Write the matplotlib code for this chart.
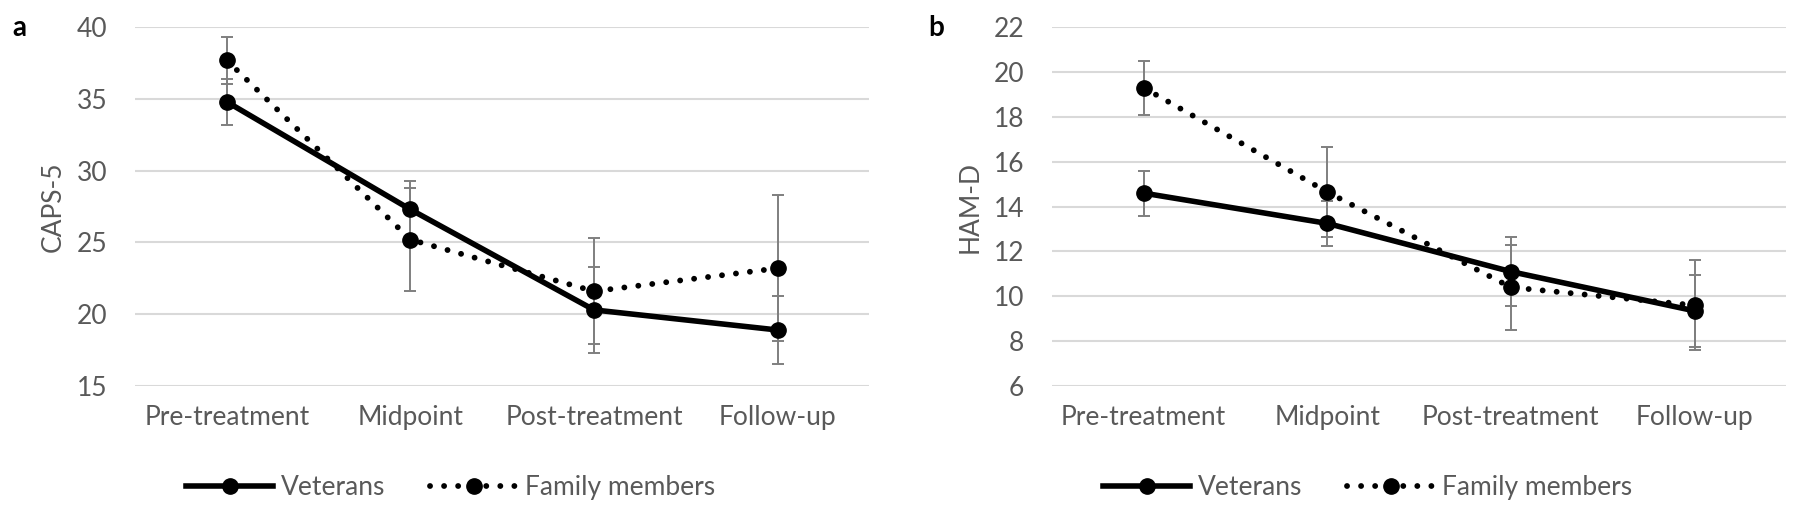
import matplotlib.pyplot as plt
from matplotlib.lines import Line2D
import numpy as np

plt.rcParams["font.family"] = ["Lato", "DejaVu Sans"]

timepoints = ["Pre-treatment", "Midpoint", "Post-treatment", "Follow-up"]

# panel a: CAPS-5
caps_veterans = [34.8, 27.3, 20.3, 18.9]
caps_veterans_err = [1.6, 2.0, 3.0, 2.4]
caps_family = [37.7, 25.2, 21.6, 23.2]
caps_family_err = [1.65, 3.6, 3.7, 5.1]

# panel b: HAM-D
hamd_veterans = [14.6, 13.25, 11.1, 9.35]
hamd_veterans_err = [1.0, 1.0, 1.55, 1.6]
hamd_family = [19.3, 14.65, 10.4, 9.6]
hamd_family_err = [1.2, 2.0, 1.9, 2.0]

GRAY = "#595959"
GRID = "#d9d9d9"
ERR = "#7f7f7f"
DOTTED = (0, (0.01, 2.4))
FS = 19


def draw_panel(ax, vet, vet_err, fam, fam_err, ylim, yticks, ylabel, letter):
    x = np.arange(len(timepoints))
    ax.errorbar(x, vet, yerr=vet_err, fmt="none", ecolor=ERR, elinewidth=1.4,
                capsize=4.5, capthick=1.4, zorder=2)
    ax.errorbar(x, fam, yerr=fam_err, fmt="none", ecolor=ERR, elinewidth=1.4,
                capsize=4.5, capthick=1.4, zorder=2)
    ax.plot(x, vet, color="black", lw=4, marker="o", ms=11, zorder=3,
            solid_capstyle="round")
    ax.plot(x, fam, color="black", lw=4.2, ls=DOTTED, marker="o", ms=11,
            zorder=3, dash_capstyle="round")

    ax.set_xlim(-0.5, len(timepoints) - 0.5)
    ax.set_ylim(*ylim)
    ax.set_yticks(yticks)
    ax.set_xticks(x)
    ax.set_xticklabels(timepoints)
    ax.yaxis.grid(True, color=GRID, lw=1.5)
    ax.set_axisbelow(True)
    for s in ax.spines.values():
        s.set_visible(False)
    ax.tick_params(length=0, labelsize=FS, colors=GRAY)
    ax.tick_params(axis="y", pad=20)
    ax.tick_params(axis="x", pad=14)
    ax.set_ylabel(ylabel, fontsize=FS, color=GRAY, labelpad=8)
    ax.text(-0.157, 0.997, letter, transform=ax.transAxes, fontsize=20,
            fontweight="bold", va="center", ha="center")

    handles = [
        Line2D([], [], color="black", lw=4, marker="o", ms=11),
        Line2D([], [], color="black", lw=4.2, ls=DOTTED, marker="o", ms=11,
               dash_capstyle="round"),
    ]
    leg = ax.legend(handles, ["Veterans", "Family members"], loc="center",
                    bbox_to_anchor=(0.43, -0.284), ncol=2, frameon=False,
                    fontsize=FS, handlelength=3.3, handletextpad=0.3,
                    columnspacing=1.7, numpoints=1)
    for t in leg.get_texts():
        t.set_color(GRAY)


fig = plt.figure(figsize=(18, 5.23), dpi=100)
ax_a = fig.add_axes([0.075, 0.262, 0.408, 0.686])
ax_b = fig.add_axes([0.5844, 0.262, 0.408, 0.686])

draw_panel(ax_a, caps_veterans, caps_veterans_err, caps_family, caps_family_err,
           (15, 40), np.arange(15, 41, 5), "CAPS-5", "a")
draw_panel(ax_b, hamd_veterans, hamd_veterans_err, hamd_family, hamd_family_err,
           (6, 22), np.arange(6, 23, 2), "HAM-D", "b")

fig.savefig("out.png", dpi=100)
